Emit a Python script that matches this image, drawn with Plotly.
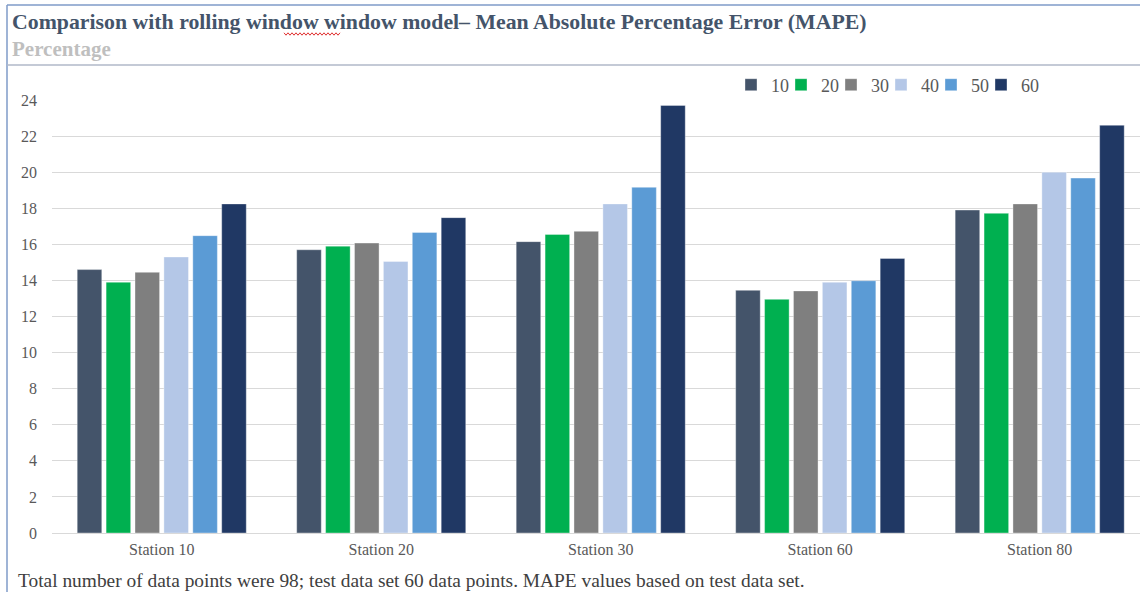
import plotly.graph_objects as go

stations = ["Station 10", "Station 20", "Station 30", "Station 60", "Station 80"]
series_names = ["10", "20", "30", "40", "50", "60"]
mape_10 = [14.6, 15.7, 16.15, 13.45, 17.9]
mape_20 = [13.9, 15.9, 16.55, 12.95, 17.72]
mape_30 = [14.45, 16.07, 16.72, 13.42, 18.24]
mape_40 = [15.3, 15.05, 18.24, 13.9, 20.0]
mape_50 = [16.48, 16.66, 19.16, 13.98, 19.67]
mape_60 = [18.24, 17.48, 23.7, 15.22, 22.6]
y_ticks = [0, 2, 4, 6, 8, 10, 12, 14, 16, 18, 20, 22, 24]

colors = ["#44546A", "#00B050", "#7F7F7F", "#B4C7E7", "#5B9BD5", "#203864"]
all_series = [mape_10, mape_20, mape_30, mape_40, mape_50, mape_60]

SERIF = "Liberation Serif, Times New Roman, serif"

fig = go.Figure()
for name, vals, c in zip(series_names, all_series, colors):
    fig.add_trace(go.Bar(
        x=stations, y=vals, name=name,
        marker=dict(color=c, line=dict(color="rgba(255,255,255,0.6)", width=0.6)),
    ))
# invisible spacer legend entry so the last legend label is not clipped
fig.add_trace(go.Scatter(x=[None], y=[None], name=" ", mode="markers",
                         marker=dict(color="rgba(0,0,0,0)", size=1,
                                     line=dict(width=0, color="rgba(0,0,0,0)")),
                         hoverinfo="skip"))

L, R, T, B = 52, 0, 100, 59
W, H = 1140, 592
pw = W - L - R
ph = H - T - B

def px(x):
    return (x - L) / pw

def py(y):
    return (H - B - y) / ph

# red wavy spell-check underline under the second "window"
wx0, wx1, wy = 284, 340, 34
pts = []
x = wx0
i = 0
while x <= wx1:
    pts.append((px(x), py(wy + (1.2 if i % 2 else -1.2))))
    x += 2
    i += 1
wave = "M " + " L ".join(f"{a:.5f},{b:.5f}" for a, b in pts)

fig.update_layout(
    width=W, height=H, autosize=False,
    margin=dict(l=L, r=R, t=T, b=B, autoexpand=False),
    paper_bgcolor="white", plot_bgcolor="white",
    barmode="group", bargap=0.21, bargroupgap=0.15,
    font=dict(family=SERIF, color="#595959"),
    showlegend=True,
    legend=dict(
        orientation="h", x=px(731), xanchor="left", y=py(85), yanchor="middle",
        font=dict(family=SERIF, size=18, color="#595959"),
        itemwidth=30, entrywidth=5, entrywidthmode="pixels",
        tracegroupgap=0, bgcolor="rgba(0,0,0,0)",
    ),
    xaxis=dict(
        range=[-0.5, 4.457],
        showgrid=False, showline=False, zeroline=False, automargin=False,
        tickfont=dict(family=SERIF, size=16, color="#595959"),
        ticks="", ticklabelstandoff=5,
    ),
    yaxis=dict(
        range=[0, 24], tickvals=y_ticks, showgrid=True, gridcolor="#D9D9D9", gridwidth=1,
        zeroline=True, zerolinecolor="#D9D9D9", zerolinewidth=1, automargin=False,
        tickfont=dict(family=SERIF, size=16, color="#595959"),
        ticks="", ticklabelstandoff=14,
    ),
    annotations=[
        dict(text="<b>Comparison with rolling window window model– Mean Absolute Percentage Error (MAPE)</b>",
             xref="paper", yref="paper", x=px(10), y=py(22), xanchor="left", yanchor="middle",
             showarrow=False, font=dict(family=SERIF, size=21.8, color="#44546A")),
        dict(text="<b>Percentage</b>",
             xref="paper", yref="paper", x=px(10), y=py(49), xanchor="left", yanchor="middle",
             showarrow=False, font=dict(family=SERIF, size=21, color="#BFBFBF")),
        dict(text="Total number of data points were 98; test data set 60 data points. MAPE values based on test data set.",
             xref="paper", yref="paper", x=px(16), y=py(580), xanchor="left", yanchor="middle",
             showarrow=False, font=dict(family=SERIF, size=19.4, color="#404040")),
    ],
    shapes=[
        dict(type="line", xref="paper", yref="paper", x0=px(7), x1=px(7), y0=py(5), y1=py(592),
             line=dict(color="#7F9BC9", width=1.5)),
        dict(type="line", xref="paper", yref="paper", x0=px(7), x1=px(1140), y0=py(5), y1=py(5),
             line=dict(color="#7F9BC9", width=1.5)),
        dict(type="line", xref="paper", yref="paper", x0=px(7), x1=px(1140), y0=py(65), y1=py(65),
             line=dict(color="#B0B8C8", width=1.5)),
        dict(type="path", xref="paper", yref="paper", path=wave,
             line=dict(color="#E03030", width=1)),
    ],
)

fig.write_html("out.html", config={"displayModeBar": False, "responsive": False},
               post_script="document.body.style.margin='0';document.body.style.overflow='hidden';")
